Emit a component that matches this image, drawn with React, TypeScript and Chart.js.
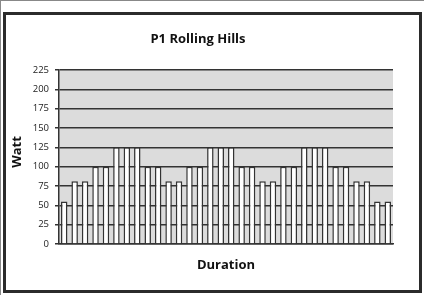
import { useEffect, useRef } from 'react';
import { Chart, registerables } from 'chart.js';

Chart.register(...registerables);

const categories = ['1','2','3','4','5','6','7','8','9','10','11','12','13','14','15','16','17','18','19','20','21','22','23','24','25','26','27','28','29','30','31','32'];
const watts = [55, 81, 81, 100, 100, 125, 125, 125, 100, 100, 81, 81, 100, 100, 125, 125, 125, 100, 100, 81, 81, 100, 100, 125, 125, 125, 100, 100, 81, 81, 55, 55];
const chartTitle = 'P1 Rolling Hills';
const xTitle = 'Duration';
const yTitle = 'Watt';
const yMin = 0;
const yMax = 225;
const yStep = 25;

const FONT = '"Open Sans", "DejaVu Sans", sans-serif';
const DARK = '#333333';

const plotBg = {
  id: 'plotBg',
  beforeDraw(chart: any) {
    const { ctx, chartArea } = chart;
    ctx.save();
    ctx.fillStyle = '#dcdcdc';
    ctx.fillRect(chartArea.left, chartArea.top, chartArea.right - chartArea.left, chartArea.bottom - chartArea.top);
    ctx.restore();
  },
};

const texts = {
  id: 'texts',
  afterDraw(chart: any) {
    const { ctx } = chart;
    ctx.save();
    ctx.fillStyle = '#111';
    ctx.font = `bold 13px ${FONT}`;
    ctx.textAlign = 'center';
    ctx.textBaseline = 'middle';
    ctx.fillText(chartTitle, 192, 24);
    ctx.translate(11, 137);
    ctx.rotate(-Math.PI / 2);
    ctx.fillText(yTitle, 0, 0);
    ctx.restore();
  },
};

export default function App() {
  const ref = useRef<HTMLCanvasElement>(null);
  useEffect(() => {
    if (!ref.current) return;
    const chart = new Chart(ref.current, {
      type: 'bar',
      data: {
        labels: categories,
        datasets: [
          {
            data: watts,
            backgroundColor: '#ffffff',
            borderColor: DARK,
            borderWidth: 1.5,
            categoryPercentage: 1,
            barPercentage: 0.62,
          },
        ],
      },
      options: {
        animation: false,
        responsive: false,
        maintainAspectRatio: false,
        layout: { padding: { top: 55, right: 26, left: 0, bottom: 0 } },
        plugins: {
          legend: { display: false },
          title: { display: false },
          tooltip: { enabled: false },
        },
        scales: {
          x: {
            grid: { display: false },
            ticks: { display: false },
            border: { display: true, color: DARK, width: 1.5 },
            title: {
              display: true,
              text: xTitle,
              color: '#111',
              font: { family: FONT, size: 13, weight: 'bold' },
              padding: { top: 0, bottom: 16.7 },
            },
            afterFit(scale: any) {
              scale.height = 46;
            },
          },
          y: {
            min: yMin,
            max: yMax,
            ticks: {
              stepSize: yStep,
              color: '#222',
              font: { family: FONT, size: 9.5 },
              padding: 6,
            },
            grid: {
              color: DARK,
              lineWidth: 1.5,
              drawTicks: true,
              tickLength: 4,
            },
            border: { display: true, color: DARK, width: 1.5 },
            afterFit(scale: any) {
              scale.width = 53;
            },
          },
        },
      },
      plugins: [plotBg, texts],
    });
    return () => chart.destroy();
  }, []);

  return (
    <div
      style={{
        position: 'fixed',
        left: 0,
        top: 0,
        width: 424,
        height: 295,
        background: '#fff',
        borderLeft: '1px solid #888',
        borderTop: '1px solid #888',
        boxSizing: 'border-box',
      }}
    >
      <div
        style={{
          position: 'absolute',
          left: 2,
          top: 11,
          width: 419,
          height: 281,
          border: '3px solid #2b2b2b',
          boxSizing: 'border-box',
        }}
      />
      <canvas
        ref={ref}
        width={413}
        height={275}
        style={{ position: 'absolute', left: 5, top: 14, width: 413, height: 275 }}
      />
    </div>
  );
}
